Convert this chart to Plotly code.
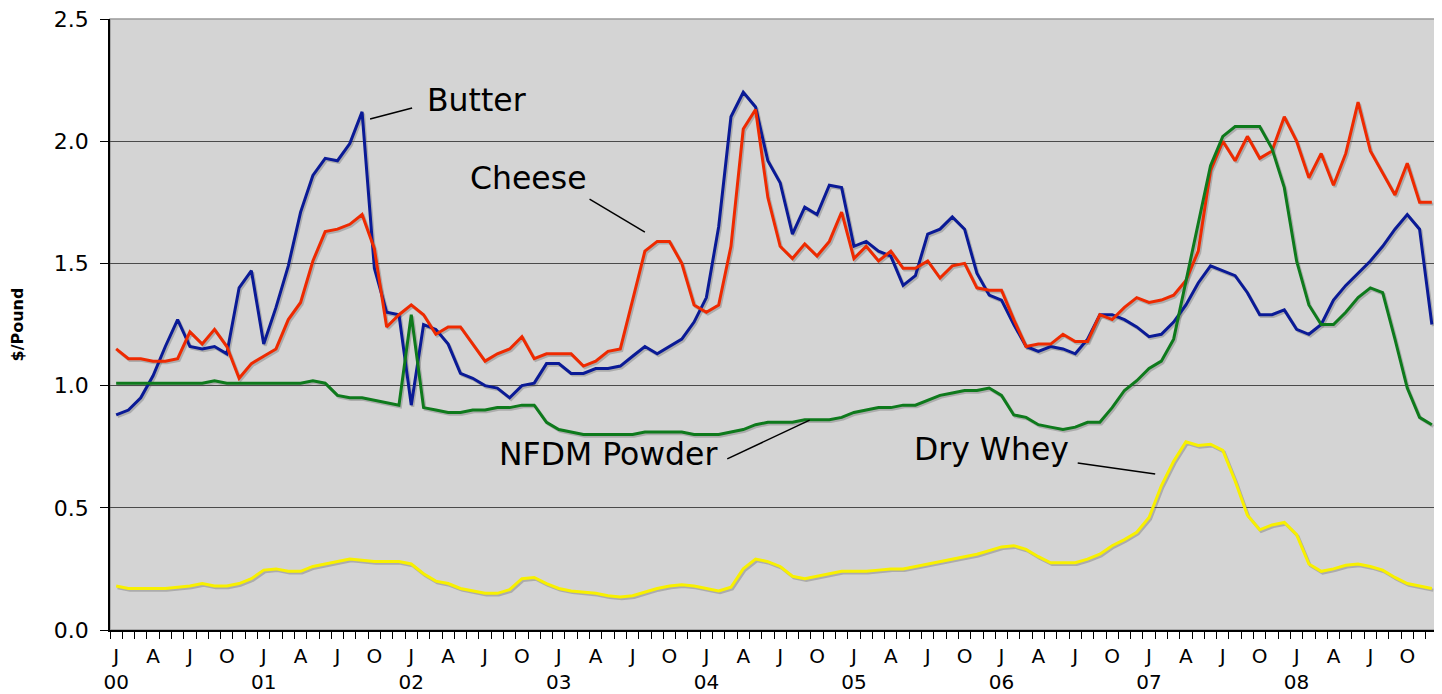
import plotly.graph_objects as go

# ---- data (monthly, Jan 2000 - Dec 2008), $/pound ----
years = ["00", "01", "02", "03", "04", "05", "06", "07", "08"]
quarter_letters = ["J", "A", "J", "O"]

butter = [
    0.88, 0.90, 0.95, 1.04, 1.16, 1.27, 1.16, 1.15, 1.16, 1.13, 1.40, 1.47,
    1.17, 1.32, 1.49, 1.71, 1.86, 1.93, 1.92, 1.99, 2.12, 1.48, 1.30, 1.29,
    0.92, 1.25, 1.23, 1.17, 1.05, 1.03, 1.00, 0.99, 0.95, 1.00, 1.01, 1.09,
    1.09, 1.05, 1.05, 1.07, 1.07, 1.08, 1.12, 1.16, 1.13, 1.16, 1.19, 1.26,
    1.36, 1.65, 2.10, 2.20, 2.14, 1.92, 1.83, 1.62, 1.73, 1.70, 1.82, 1.81,
    1.57, 1.59, 1.55, 1.53, 1.41, 1.45, 1.62, 1.64, 1.69, 1.64, 1.46, 1.37,
    1.35, 1.25, 1.16, 1.14, 1.16, 1.15, 1.13, 1.19, 1.29, 1.29, 1.27, 1.24,
    1.20, 1.21, 1.26, 1.33, 1.42, 1.49, 1.47, 1.45, 1.38, 1.29, 1.29, 1.31,
    1.23, 1.21, 1.25, 1.35, 1.41, 1.46, 1.51, 1.57, 1.64, 1.70, 1.64, 1.25,
]

cheese = [
    1.15, 1.11, 1.11, 1.10, 1.10, 1.11, 1.22, 1.17, 1.23, 1.16, 1.03, 1.09,
    1.12, 1.15, 1.27, 1.34, 1.51, 1.63, 1.64, 1.66, 1.70, 1.56, 1.24, 1.29,
    1.33, 1.29, 1.21, 1.24, 1.24, 1.17, 1.10, 1.13, 1.15, 1.20, 1.11, 1.13,
    1.13, 1.13, 1.08, 1.10, 1.14, 1.15, 1.35, 1.55, 1.59, 1.59, 1.50, 1.33,
    1.30, 1.33, 1.57, 2.05, 2.13, 1.77, 1.57, 1.52, 1.58, 1.53, 1.59, 1.71,
    1.52, 1.57, 1.51, 1.55, 1.48, 1.48, 1.51, 1.44, 1.49, 1.50, 1.40, 1.39,
    1.39, 1.27, 1.16, 1.17, 1.17, 1.21, 1.18, 1.18, 1.29, 1.27, 1.32, 1.36,
    1.34, 1.35, 1.37, 1.43, 1.55, 1.88, 2.00, 1.92, 2.02, 1.93, 1.96, 2.10,
    2.00, 1.85, 1.95, 1.82, 1.95, 2.16, 1.96, 1.87, 1.78, 1.91, 1.75, 1.75,
]

nfdm = [
    1.01, 1.01, 1.01, 1.01, 1.01, 1.01, 1.01, 1.01, 1.02, 1.01, 1.01, 1.01,
    1.01, 1.01, 1.01, 1.01, 1.02, 1.01, 0.96, 0.95, 0.95, 0.94, 0.93, 0.92,
    1.29, 0.91, 0.90, 0.89, 0.89, 0.90, 0.90, 0.91, 0.91, 0.92, 0.92, 0.85,
    0.82, 0.81, 0.80, 0.80, 0.80, 0.80, 0.80, 0.81, 0.81, 0.81, 0.81, 0.80,
    0.80, 0.80, 0.81, 0.82, 0.84, 0.85, 0.85, 0.85, 0.86, 0.86, 0.86, 0.87,
    0.89, 0.90, 0.91, 0.91, 0.92, 0.92, 0.94, 0.96, 0.97, 0.98, 0.98, 0.99,
    0.96, 0.88, 0.87, 0.84, 0.83, 0.82, 0.83, 0.85, 0.85, 0.91, 0.98, 1.02,
    1.07, 1.10, 1.19, 1.43, 1.67, 1.90, 2.02, 2.06, 2.06, 2.06, 1.97, 1.81,
    1.51, 1.33, 1.25, 1.25, 1.30, 1.36, 1.40, 1.38, 1.19, 0.99, 0.87, 0.84,
]

whey = [
    0.18, 0.17, 0.17, 0.17, 0.17, 0.175, 0.18, 0.19, 0.18, 0.18, 0.19, 0.21,
    0.245, 0.25, 0.24, 0.24, 0.26, 0.27, 0.28, 0.29, 0.285, 0.28, 0.28, 0.28,
    0.27, 0.23, 0.20, 0.19, 0.17, 0.16, 0.15, 0.15, 0.165, 0.21, 0.215, 0.19,
    0.17, 0.16, 0.155, 0.15, 0.14, 0.135, 0.14, 0.155, 0.17, 0.18, 0.185, 0.18,
    0.17, 0.16, 0.175, 0.25, 0.29, 0.28, 0.26, 0.22, 0.21, 0.22, 0.23, 0.24,
    0.24, 0.24, 0.245, 0.25, 0.25, 0.26, 0.27, 0.28, 0.29, 0.30, 0.31, 0.325,
    0.34, 0.345, 0.33, 0.30, 0.275, 0.275, 0.275, 0.29, 0.31, 0.345, 0.37, 0.40,
    0.46, 0.59, 0.69, 0.77, 0.755, 0.76, 0.735, 0.61, 0.47, 0.41, 0.43, 0.44,
    0.39, 0.27, 0.24, 0.25, 0.265, 0.27, 0.26, 0.245, 0.215, 0.19, 0.18, 0.17,
]

series_names = ["Butter", "Cheese", "NFDM Powder", "Dry Whey"]
series_values = [butter, cheese, nfdm, whey]
series_colors = ["#0A1A96", "#EE2A00", "#0E7A1C", "#F8F000"]

n = len(butter)
x = list(range(n))

tickvals = list(range(0, n, 3))
ticktext = []
for k, v in enumerate(tickvals):
    letter = quarter_letters[k % 4]
    if k % 4 == 0:
        ticktext.append(f"{letter}<br>{years[k // 4]}")
    else:
        ticktext.append(letter)

FONT = "DejaVu Sans, Verdana, sans-serif"

fig = go.Figure()

# subtle drop shadows (derived from the same series)
for vals in series_values:
    fig.add_trace(go.Scatter(
        x=[xi + 0.12 for xi in x], y=[v - 0.007 for v in vals],
        mode="lines", line=dict(color="rgba(80,80,80,0.30)", width=3),
        hoverinfo="skip", showlegend=False))

for name, vals, col in zip(series_names, series_values, series_colors):
    fig.add_trace(go.Scatter(
        x=x, y=vals, mode="lines", name=name,
        line=dict(color=col, width=3), showlegend=False))

# labels with leader lines
labels = [
    dict(text="Butter", x=25.1, y=2.168, x0=20.65, y0=2.091, x1=24.07, y1=2.136),
    dict(text="Cheese", x=28.6, y=1.849, x0=38.5, y0=1.763, x1=43.0, y1=1.628),
    dict(text="NFDM Powder", x=31.0, y=0.722, x0=49.7, y0=0.700, x1=56.4, y1=0.859),
    dict(text="Dry Whey", x=64.7, y=0.739, x0=78.2, y0=0.683, x1=84.5, y1=0.638),
]
for lb in labels:
    fig.add_annotation(x=lb["x"], y=lb["y"], text=lb["text"], showarrow=False,
                       xanchor="left", yanchor="middle",
                       font=dict(family=FONT, size=31.5, color="black"))
    fig.add_shape(type="line", xref="x", yref="y",
                  x0=lb["x0"], y0=lb["y0"], x1=lb["x1"], y1=lb["y1"],
                  line=dict(color="black", width=1.5))

# gray frame around plot area
fig.add_shape(type="rect", xref="paper", yref="paper", x0=0, y0=0, x1=1, y1=1,
              line=dict(color="#9a9a9a", width=1.5), layer="below")

# the page body adds an 8px margin, so the figure is sized to fill the rest
fig.update_layout(
    width=1434, height=686,
    margin=dict(l=102, r=4, t=11, b=64),
    paper_bgcolor="white", plot_bgcolor="#D4D4D4",
    font=dict(family=FONT, color="black"),
    showlegend=False,
    xaxis=dict(
        range=[-0.5, n - 0.5], tickmode="array", tickvals=tickvals, ticktext=ticktext,
        ticks="outside", ticklen=7, tickcolor="rgba(0,0,0,0)",
        tickfont=dict(family=FONT, size=20, color="black"),
        ticklabelstandoff=0, automargin=False, ticklabeloverflow="allow",
        showgrid=False, zeroline=False,
        showline=True, linecolor="black", linewidth=1.5,
        minor=dict(ticks="outside", ticklen=7, tickcolor="black", tickwidth=1,
                   tick0=-0.5, dtick=1, showgrid=False),
    ),
    yaxis=dict(
        range=[0, 2.5], dtick=0.5, tickformat=".1f",
        ticks="outside", ticklen=8, tickcolor="black",
        tickfont=dict(family=FONT, size=22, color="black"),
        ticklabelstandoff=7, automargin=False, ticklabeloverflow="allow",
        showgrid=True, gridcolor="#4a4a4a", gridwidth=1,
        zeroline=False, showline=True, linecolor="black", linewidth=1.5,
        title=dict(text="<b>$/Pound</b>", standoff=28,
                   font=dict(family=FONT, size=16, color="black")),
    ),
)

fig.write_html("out.html")
